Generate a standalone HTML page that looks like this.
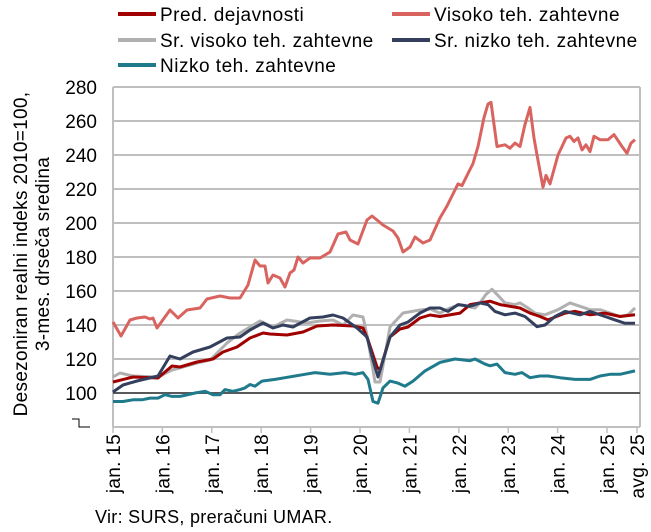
<!DOCTYPE html>
<html><head><meta charset="utf-8"><style>
body{margin:0;background:#fff;}
svg{display:block;font-family:"Liberation Sans",sans-serif;}
</style></head><body>
<svg id="s" width="651" height="532" viewBox="0 0 651 532">
<rect width="651" height="532" fill="#fff"/>
<g stroke="#bfbfbf" stroke-width="2">
<line x1="113" y1="87" x2="640" y2="87"/>
<line x1="113" y1="121" x2="640" y2="121"/>
<line x1="113" y1="155" x2="640" y2="155"/>
<line x1="113" y1="189" x2="640" y2="189"/>
<line x1="113" y1="223" x2="640" y2="223"/>
<line x1="113" y1="257" x2="640" y2="257"/>
<line x1="113" y1="291" x2="640" y2="291"/>
<line x1="113" y1="325" x2="640" y2="325"/>
<line x1="113" y1="359" x2="640" y2="359"/>
<line x1="113" y1="87" x2="113" y2="427"/>
<line x1="640" y1="87" x2="640" y2="427"/>
<line x1="113" y1="427" x2="640" y2="427"/>
</g>
<g stroke="#bfbfbf" stroke-width="1.5" id="ticks"></g>
<line x1="113" y1="393" x2="640" y2="393" stroke="#595959" stroke-width="2"/>
<g font-size="19" fill="#000" text-anchor="end">
<text x="97" y="94">280</text><text x="97" y="128">260</text><text x="97" y="162">240</text>
<text x="97" y="196">220</text><text x="97" y="230">200</text><text x="97" y="264">180</text>
<text x="97" y="298">160</text><text x="97" y="332">140</text><text x="97" y="366">120</text>
<text x="97" y="400">100</text>
</g>
<path d="M72 419 H79 V427 H90" fill="none" stroke="#000" stroke-width="1"/>
<g font-size="19" text-anchor="middle" letter-spacing="0.3">
<text transform="translate(27,254) rotate(-90)">Desezoniran realni indeks 2010=100,</text>
<text transform="translate(49,254) rotate(-90)">3-mes. drseča sredina</text>
</g>
<g id="xl" font-size="19" text-anchor="end" letter-spacing="0.3"></g>
<g id="lines" fill="none" stroke-width="3" stroke-linejoin="round"></g>
<g font-size="19" letter-spacing="0.5">
<line x1="118" y1="14" x2="156" y2="14" stroke="#a00000" stroke-width="4"/><text x="160" y="21">Pred. dejavnosti</text>
<line x1="392" y1="14" x2="430" y2="14" stroke="#d9645f" stroke-width="4"/><text x="434" y="21">Visoko teh. zahtevne</text>
<line x1="118" y1="40" x2="156" y2="40" stroke="#b0b0b0" stroke-width="4"/><text x="160" y="47">Sr. visoko teh. zahtevne</text>
<line x1="392" y1="40" x2="430" y2="40" stroke="#333f5c" stroke-width="4"/><text x="434" y="47">Sr. nizko teh. zahtevne</text>
<line x1="118" y1="65" x2="156" y2="65" stroke="#1f7a8c" stroke-width="4"/><text x="160" y="72">Nizko teh. zahtevne</text>
</g>
<text x="95" y="523" font-size="18" letter-spacing="0.3">Vir: SURS, preračuni UMAR.</text>
</svg>
<script>
var NS="http://www.w3.org/2000/svg";
function el(p,t,a,txt){var e=document.createElementNS(NS,t);for(var k in a)e.setAttribute(k,a[k]);if(txt)e.textContent=txt;p.appendChild(e);return e;}
var tk=document.getElementById('ticks'),xl=document.getElementById('xl');
var labs=["jan. 15","jan. 16","jan. 17","jan. 18","jan. 19","jan. 20","jan. 21","jan. 22","jan. 23","jan. 24","jan. 25"];
for(var i=0;i<11;i++){var x=113+i*49.4;el(tk,'line',{x1:x,y1:427,x2:x,y2:433});
el(xl,'text',{transform:'translate('+(x+7)+',434) rotate(-90)'},labs[i]);}
el(tk,'line',{x1:637,y1:427,x2:637,y2:433});
el(xl,'text',{transform:'translate(644,434) rotate(-90)'},"avg. 25");
var L=document.getElementById('lines');
function v2y(v){return 393-(v-100)*1.7;}
function addPx(pts,c){el(L,'polyline',{points:pts.map(function(p){return p[0]+','+p[1]}).join(' '),stroke:c});}
function addV(pts){return pts.map(function(p){return [p[0],v2y(p[1])];});}
addPx(addV([[113,95],[123,95],[133,96],[142,96],[150,97],[158,97],[165,99],[172,98],[180,98],[188,99],[195,100],[205,101],[213,99],[220,99],[225,102],[233,101],[240,102],[245,103],[250,105],[255,104],[262,107],[275,108],[285,109],[295,110],[305,111],[315,112],[330,111],[345,112],[355,111],[363,112],[368,108],[373,95],[378,94],[383,103],[390,107],[397,106],[405,104],[413,107],[425,113],[440,118],[455,120],[470,119],[475,120],[485,117],[490,116],[497,117],[505,112],[515,111],[522,112],[530,109],[540,110],[548,110],[560,109],[575,108],[590,108],[600,110],[610,111],[620,111],[635,113]]),'#1f7a8c');
addPx([[113,377],[120,373],[133,376],[158,377],[172,370],[197,363],[210,360],[227,343],[240,333],[260,321],[273,327],[287,320],[307,323],[320,321],[333,320],[343,325],[353,315],[363,317],[368,340],[375,382],[380,382],[390,327],[403,313],[420,310],[430,309]].concat(addV([[440,147],[450,150],[460,152],[475,150],[480,153],[486,158],[492,161],[497,158],[505,153],[515,152],[520,153],[528,150],[535,147],[545,146],[558,149],[570,153],[580,151],[590,149],[600,149],[610,147],[620,145],[628,146],[635,150]])),'#b0b0b0');
addPx([[113,382],[133,377],[158,378],[172,366],[180,367],[197,362],[213,359],[223,352],[237,347],[250,338],[263,333],[270,334],[287,335],[303,332],[317,326],[333,325],[353,326],[363,328],[368,340],[377,367],[380,370],[390,337],[400,329],[408,327],[420,318],[430,315]].concat(addV([[440,145],[460,147],[470,152],[490,154],[500,152],[520,150],[530,147],[540,145],[548,143],[565,147],[575,148],[590,146],[605,147],[620,145],[635,146]])),'#a00000');
addPx([[113,392],[123,385],[137,381],[158,376],[170,356],[180,359],[193,352],[210,347],[227,338],[240,337],[250,330],[263,323],[273,328],[283,325],[293,327],[310,318],[323,317],[333,315],[343,318],[357,328],[367,337],[373,360],[378,377],[390,337],[400,325],[408,322],[420,313],[430,308]].concat(addV([[440,150],[448,148],[458,152],[470,151],[480,153],[488,152],[495,148],[505,146],[515,147],[525,145],[537,139],[545,140],[555,145],[565,148],[580,146],[590,148],[605,145],[615,143],[625,141],[635,141]])),'#333f5c');
addPx([[113,322],[121,336],[130,320],[137,318],[145,317],[150,319],[153,318],[157,328],[170,310],[178,318],[187,310],[200,308],[207,299],[220,296],[230,298],[240,298],[248,285],[255,260],[260,266],[265,266],[268,283],[273,275],[280,278],[285,287],[290,273],[294,270],[298,257],[303,263],[310,258],[320,258],[330,252],[338,234],[346,232],[350,240],[358,244],[367,220],[372,216],[377,220],[383,225],[393,231],[398,238],[403,252],[410,247],[415,237],[423,243],[430,240]].concat(addV([[440,203],[447,210],[458,223],[462,222],[473,235],[478,245],[484,262],[488,270],[491,271],[497,245],[505,246],[510,244],[515,247],[520,245],[525,258],[530,268],[534,250],[537,240],[543,221],[546,228],[550,223],[558,240],[566,250],[570,251],[574,248],[578,250],[582,243],[586,246],[590,242],[594,251],[600,249],[608,249],[614,252],[622,245],[627,241],[631,247],[635,249]])),'#d9645f');
</script>
</body></html>
